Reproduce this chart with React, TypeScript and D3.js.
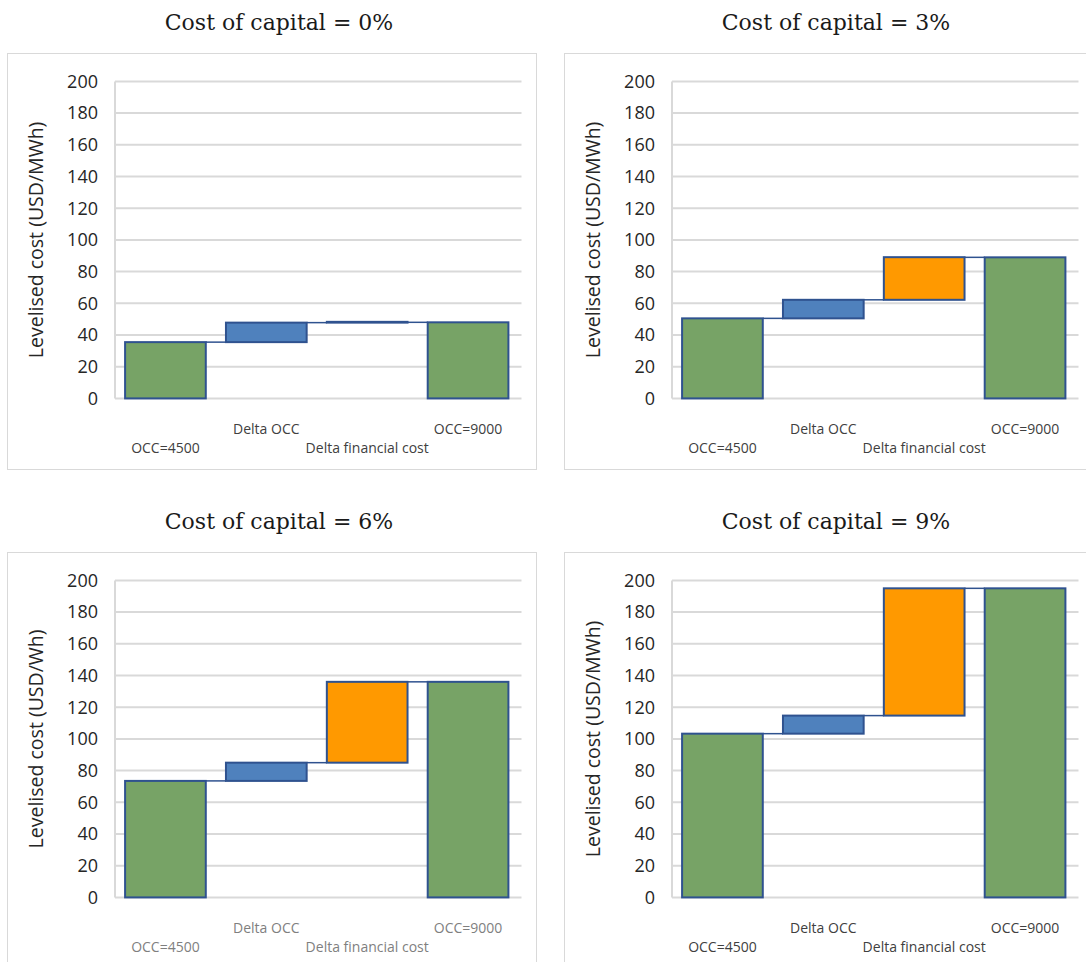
import React from "react";
import * as d3 from "d3";

const panelTitles = ["Cost of capital = 0%", "Cost of capital = 3%", "Cost of capital = 6%", "Cost of capital = 9%"];
const yTitles = ["Levelised cost (USD/MWh)", "Levelised cost (USD/MWh)", "Levelised cost (USD/Wh)", "Levelised cost (USD/MWh)"];
const categories = ["OCC=4500", "Delta OCC", "Delta financial cost", "OCC=9000"];
const occ4500 = [35.5, 50.5, 73.5, 103.3];
const deltaOcc = [12.3, 11.7, 11.5, 11.4];
const deltaFin = [0.5, 26.9, 51, 80.3];
const occ9000 = [48, 89, 136, 195];
const yTicks = [0, 20, 40, 60, 80, 100, 120, 140, 160, 180, 200];
const catLabelColors = ["#404040", "#404040", "#7f7f7f", "#404040"];

const GREEN = "#77a366";
const BLUE = "#4f81bd";
const ORANGE = "#ff9900";
const EDGE = "#2f528f";
const GRID = "#d9d9d9";
const SANS = "'Open Sans', 'Noto Sans', sans-serif";

function Panel({ idx, ox, oy, frameH }: { idx: number; ox: number; oy: number; frameH: number }) {
  const x = d3.scaleBand<string>().domain(categories).range([115, 518.5]).paddingInner(0.2).paddingOuter(0.1);
  const y = d3.scaleLinear().domain([0, 200]).range([398.4, 81.4]);
  const s = occ4500[idx];
  const a = s + deltaOcc[idx];
  const b = a + deltaFin[idx];
  const e = occ9000[idx];
  const bars = [
    { c: categories[0], y0: 0, y1: s, fill: GREEN },
    { c: categories[1], y0: s, y1: a, fill: BLUE },
    { c: categories[2], y0: a, y1: b, fill: ORANGE },
    { c: categories[3], y0: 0, y1: e, fill: GREEN },
  ];
  const connectors = [
    { from: categories[0], to: categories[1], v: s },
    { from: categories[1], to: categories[2], v: a },
    { from: categories[2], to: categories[3], v: e },
  ];
  const bw = x.bandwidth();
  const [r0, r1] = x.range();
  return (
    <g transform={`translate(${ox},${oy})`}>
      <text x={279} y={30} textAnchor="middle" fontFamily="'DejaVu Serif', serif" fontSize={22} fill="#1a1a1a">
        {panelTitles[idx]}
      </text>
      <rect x={7.5} y={53.5} width={529} height={frameH} fill="none" stroke={GRID} strokeWidth={1} />
      {yTicks.map((t) => (
        <g key={t}>
          <line x1={r0} x2={r1 + 3} y1={y(t)} y2={y(t)} stroke={GRID} strokeWidth={2} />
          <text x={98} y={y(t)} dy="0.35em" textAnchor="end" fontFamily={SANS} fontSize={18} fill="#262626">
            {t}
          </text>
        </g>
      ))}
      <line x1={r0} x2={r0} y1={y(200)} y2={y(0)} stroke={GRID} strokeWidth={2} />
      <text
        transform={`translate(43,${(y(0) + y(200)) / 2}) rotate(-90)`}
        textAnchor="middle"
        fontFamily={SANS}
        fontSize={19.5}
        fill="#262626"
      >
        {yTitles[idx]}
      </text>
      {connectors.map((c, i) => (
        <line
          key={i}
          x1={(x(c.from) as number) + bw}
          x2={x(c.to) as number}
          y1={y(c.v)}
          y2={y(c.v)}
          stroke={EDGE}
          strokeWidth={1.5}
        />
      ))}
      {bars.map((b2, i) => (
        <rect
          key={i}
          x={x(b2.c)}
          y={y(Math.max(b2.y0, b2.y1))}
          width={bw}
          height={Math.abs(y(b2.y0) - y(b2.y1))}
          fill={b2.fill}
          stroke={EDGE}
          strokeWidth={2}
        />
      ))}
      {categories.map((c, i) => (
        <text
          key={c}
          x={(x(c) as number) + bw / 2}
          y={i % 2 === 1 ? 433.5 : 452.5}
          textAnchor="middle"
          fontFamily={SANS}
          fontSize={14}
          fill={catLabelColors[idx]}
        >
          {c}
        </text>
      ))}
    </g>
  );
}

export default function App() {
  const offsets = [
    [0, 0, 416],
    [557, 0, 416],
    [0, 499, 600],
    [557, 499, 600],
  ];
  return (
    <svg
      width={1086}
      height={962}
      style={{ position: "absolute", left: 0, top: 0, background: "#fff" }}
    >
      <rect width={1086} height={962} fill="#fff" />
      {offsets.map(([ox, oy, h], i) => (
        <Panel key={i} idx={i} ox={ox} oy={oy} frameH={h} />
      ))}
    </svg>
  );
}
